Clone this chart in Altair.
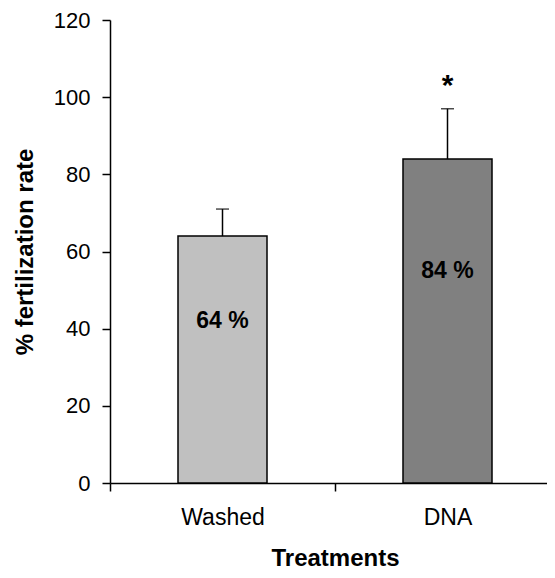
import altair as alt
import pandas as pd

categories = ["Washed", "DNA"]
means = [64, 84]
upper = [71, 97]
bar_labels = ["64 %", "84 %"]
significance = ["", "*"]
fills = ["#c0c0c0", "#808080"]
y_ticks = [0, 20, 40, 60, 80, 100, 120]

df = pd.DataFrame({
    "treatment": categories,
    "mean": means,
    "upper": upper,
    "label": bar_labels,
    "sig": significance,
    "fill": fills,
})

FONT = "Liberation Sans, Arial, sans-serif"

x_enc = alt.X(
    "treatment:N",
    sort=categories,
    scale=alt.Scale(range=[0, 450], paddingInner=0, paddingOuter=0),
    axis=alt.Axis(
        title="Treatments", labelAngle=0, tickBand="extent", tickSize=8,
        tickWidth=1.5, domainWidth=1.5, domainColor="black", tickColor="black",
        labelFontSize=23, labelPadding=15, labelColor="black", labelFont=FONT,
        titleFontSize=24, titleFontWeight="bold", titleFont=FONT, titleColor="black",
        titlePadding=17, titleX=225,
    ),
)

y_scale = alt.Scale(domain=[0, 120], nice=False)
y_axis = alt.Axis(
    title="% fertilization rate", values=y_ticks, grid=False, tickSize=8,
    tickWidth=1.5, domainWidth=1.5, domainColor="black", tickColor="black",
    labelFontSize=22, labelPadding=12, labelColor="black", labelFont=FONT,
    titleFontSize=24, titleFontWeight="bold", titleFont=FONT, titleColor="black",
    titlePadding=16,
)

base = alt.Chart(df)

bars = base.mark_bar(size=89, stroke="black", strokeWidth=1.5).encode(
    x=x_enc,
    y=alt.Y("mean:Q", scale=y_scale, axis=y_axis),
    fill=alt.Fill("fill:N", scale=None),
)

err = base.mark_rule(color="black", strokeWidth=1.5).encode(
    x=alt.X("treatment:N", sort=categories),
    y=alt.Y("mean:Q"),
    y2="upper:Q",
)

cap = base.mark_tick(color="black", thickness=1.5, size=13, orient="horizontal").encode(
    x=alt.X("treatment:N", sort=categories),
    y=alt.Y("upper:Q"),
)

inner = base.transform_calculate(pos="datum.mean * 0.655").mark_text(
    font=FONT, fontSize=23, fontWeight="bold", color="black", baseline="middle"
).encode(
    x=alt.X("treatment:N", sort=categories),
    y=alt.Y("pos:Q"),
    text="label:N",
)

star = base.mark_text(
    font=FONT, fontSize=30, fontWeight="bold", color="black",
    baseline="alphabetic", dy=-14
).encode(
    x=alt.X("treatment:N", sort=categories),
    y=alt.Y("upper:Q"),
    text="sig:N",
)

chart = alt.layer(bars, err, cap, inner, star).properties(
    width=437, height=463,
    autosize=alt.AutoSizeParams(type="none"),
    padding={"left": 102, "top": 12, "right": 0, "bottom": 87},
).configure_view(stroke=None)

chart.save("out.html", embed_options={"renderer": "svg", "actions": False})
